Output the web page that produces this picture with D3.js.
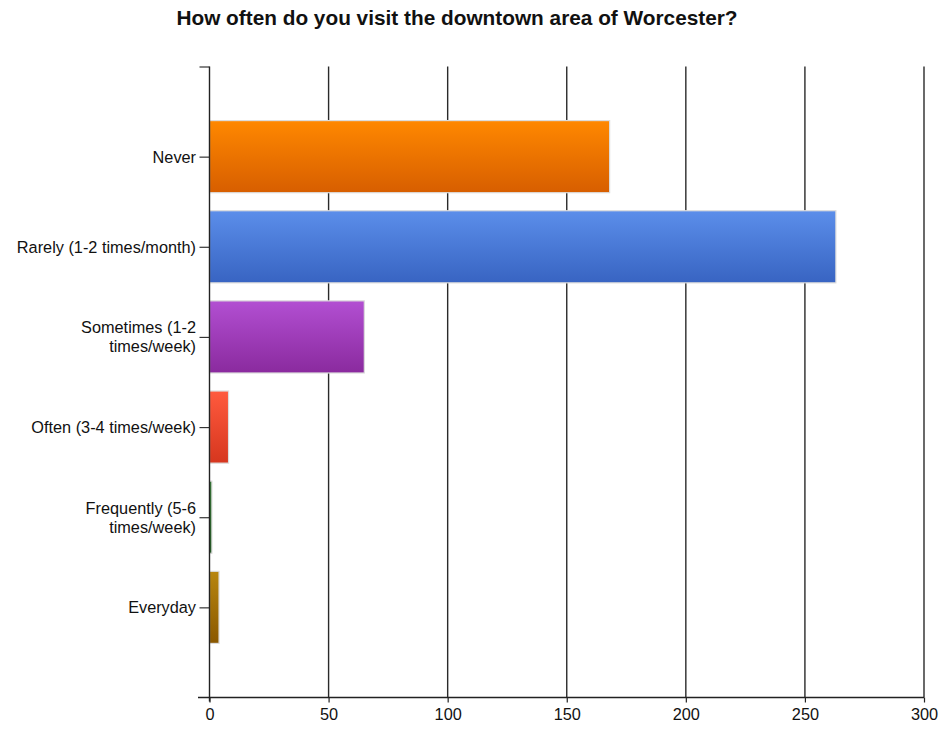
<!DOCTYPE html>
<html>
<head>
<meta charset="utf-8">
<script src="https://cdn.jsdelivr.net/npm/d3@7"></script>
<style>
  html, body { margin: 0; padding: 0; background: #fff; }
  svg { display: block; font-family: "Liberation Sans", Arial, sans-serif; }
</style>
</head>
<body>
<svg id="chart" width="942" height="730"></svg>
<script>
// Survey answers and response counts
const categories = [
  "Never",
  "Rarely (1-2 times/month)",
  "Sometimes (1-2 times/week)",
  "Often (3-4 times/week)",
  "Frequently (5-6 times/week)",
  "Everyday"
];
const labelLines = [
  ["Never"],
  ["Rarely (1-2 times/month)"],
  ["Sometimes (1-2", "times/week)"],
  ["Often (3-4 times/week)"],
  ["Frequently (5-6", "times/week)"],
  ["Everyday"]
];
const counts = [168, 263, 65, 8, 1, 4];
const xTicks = [0, 50, 100, 150, 200, 250, 300];
const colorTop = ["#ff8800", "#5b8eea", "#b24fd2", "#ff5a3e", "#2a7a2a", "#b8860e"];
const colorBottom = ["#d75e00", "#3864c2", "#8a2a9e", "#d6361e", "#135513", "#8a5800"];

const svg = d3.select("#chart");
const plotLeft = 209.5, plotRight = 924, plotTop = 66.5, plotBottom = 697.5;

const x = d3.scaleLinear().domain([0, 300]).range([plotLeft, plotRight]);
// categories sit at integer positions 1..6 with half-band margins at each end
const y = d3.scaleLinear().domain([0, categories.length + 1]).range([plotTop, plotBottom]);
const band = y(1) - y(0);
const barH = band * 0.8;

// gradients
const defs = svg.append("defs");
categories.forEach((c, i) => {
  const g = defs.append("linearGradient")
    .attr("id", "grad" + i)
    .attr("x1", 0).attr("y1", 0).attr("x2", 0).attr("y2", 1);
  g.append("stop").attr("offset", "0%").attr("stop-color", colorTop[i]);
  g.append("stop").attr("offset", "100%").attr("stop-color", colorBottom[i]);
});

// title
svg.append("text")
  .attr("x", 457).attr("y", 25)
  .attr("text-anchor", "middle")
  .attr("font-weight", "bold")
  .attr("font-size", 20.8)
  .attr("fill", "#111")
  .text("How often do you visit the downtown area of Worcester?");

// vertical gridlines
svg.append("g").selectAll("line")
  .data(xTicks.slice(1))
  .join("line")
  .attr("x1", d => x(d)).attr("x2", d => x(d))
  .attr("y1", plotTop).attr("y2", plotBottom)
  .attr("stroke", "#2a2a2a").attr("stroke-width", 1.4);

// bars
svg.append("g").selectAll("rect")
  .data(counts)
  .join("rect")
  .attr("x", x(0))
  .attr("y", (d, i) => y(i + 1) - barH / 2)
  .attr("width", d => x(d) - x(0))
  .attr("height", barH)
  .attr("fill", (d, i) => `url(#grad${i})`)
  .attr("stroke", "#dcdcdc")
  .attr("stroke-width", 1.2);

// x axis
const xAxis = d3.axisBottom(x).tickValues(xTicks).tickSize(5).tickPadding(6);
const gx = svg.append("g")
  .attr("transform", `translate(0,${plotBottom})`)
  .call(xAxis);
gx.select(".domain").remove();
gx.append("line")
  .attr("x1", 198).attr("x2", plotRight)
  .attr("y1", 0).attr("y2", 0)
  .attr("stroke", "#222").attr("stroke-width", 1.4);
gx.selectAll(".tick line").attr("stroke", "#222").attr("stroke-width", 1.2);
gx.selectAll(".tick text")
  .attr("font-size", 16.3)
  .attr("font-family", "Liberation Sans, Arial, sans-serif")
  .attr("fill", "#111");

// y axis
const yAxis = d3.axisLeft(y)
  .tickValues(d3.range(0, categories.length + 1))
  .tickSize(10)
  .tickFormat("");
const gy = svg.append("g")
  .attr("transform", `translate(${plotLeft},0)`)
  .call(yAxis);
gy.select(".domain").remove();
gy.append("line")
  .attr("x1", 0).attr("x2", 0)
  .attr("y1", plotTop).attr("y2", plotBottom + 4)
  .attr("stroke", "#222").attr("stroke-width", 1.4);
gy.selectAll(".tick line").attr("stroke", "#333").attr("stroke-width", 1.2);

// category labels
const lineH = 19;
svg.append("g").selectAll("text")
  .data(labelLines)
  .join("text")
  .attr("text-anchor", "end")
  .attr("font-size", 16.3)
  .attr("fill", "#111")
  .each(function (lines, i) {
    const t = d3.select(this);
    const cy = y(i + 1);
    const y0 = cy - (lines.length - 1) * lineH / 2 + 6;
    lines.forEach((l, k) => {
      t.append("tspan").attr("x", 196).attr("y", y0 + k * lineH).text(l);
    });
  });
</script>
</body>
</html>
